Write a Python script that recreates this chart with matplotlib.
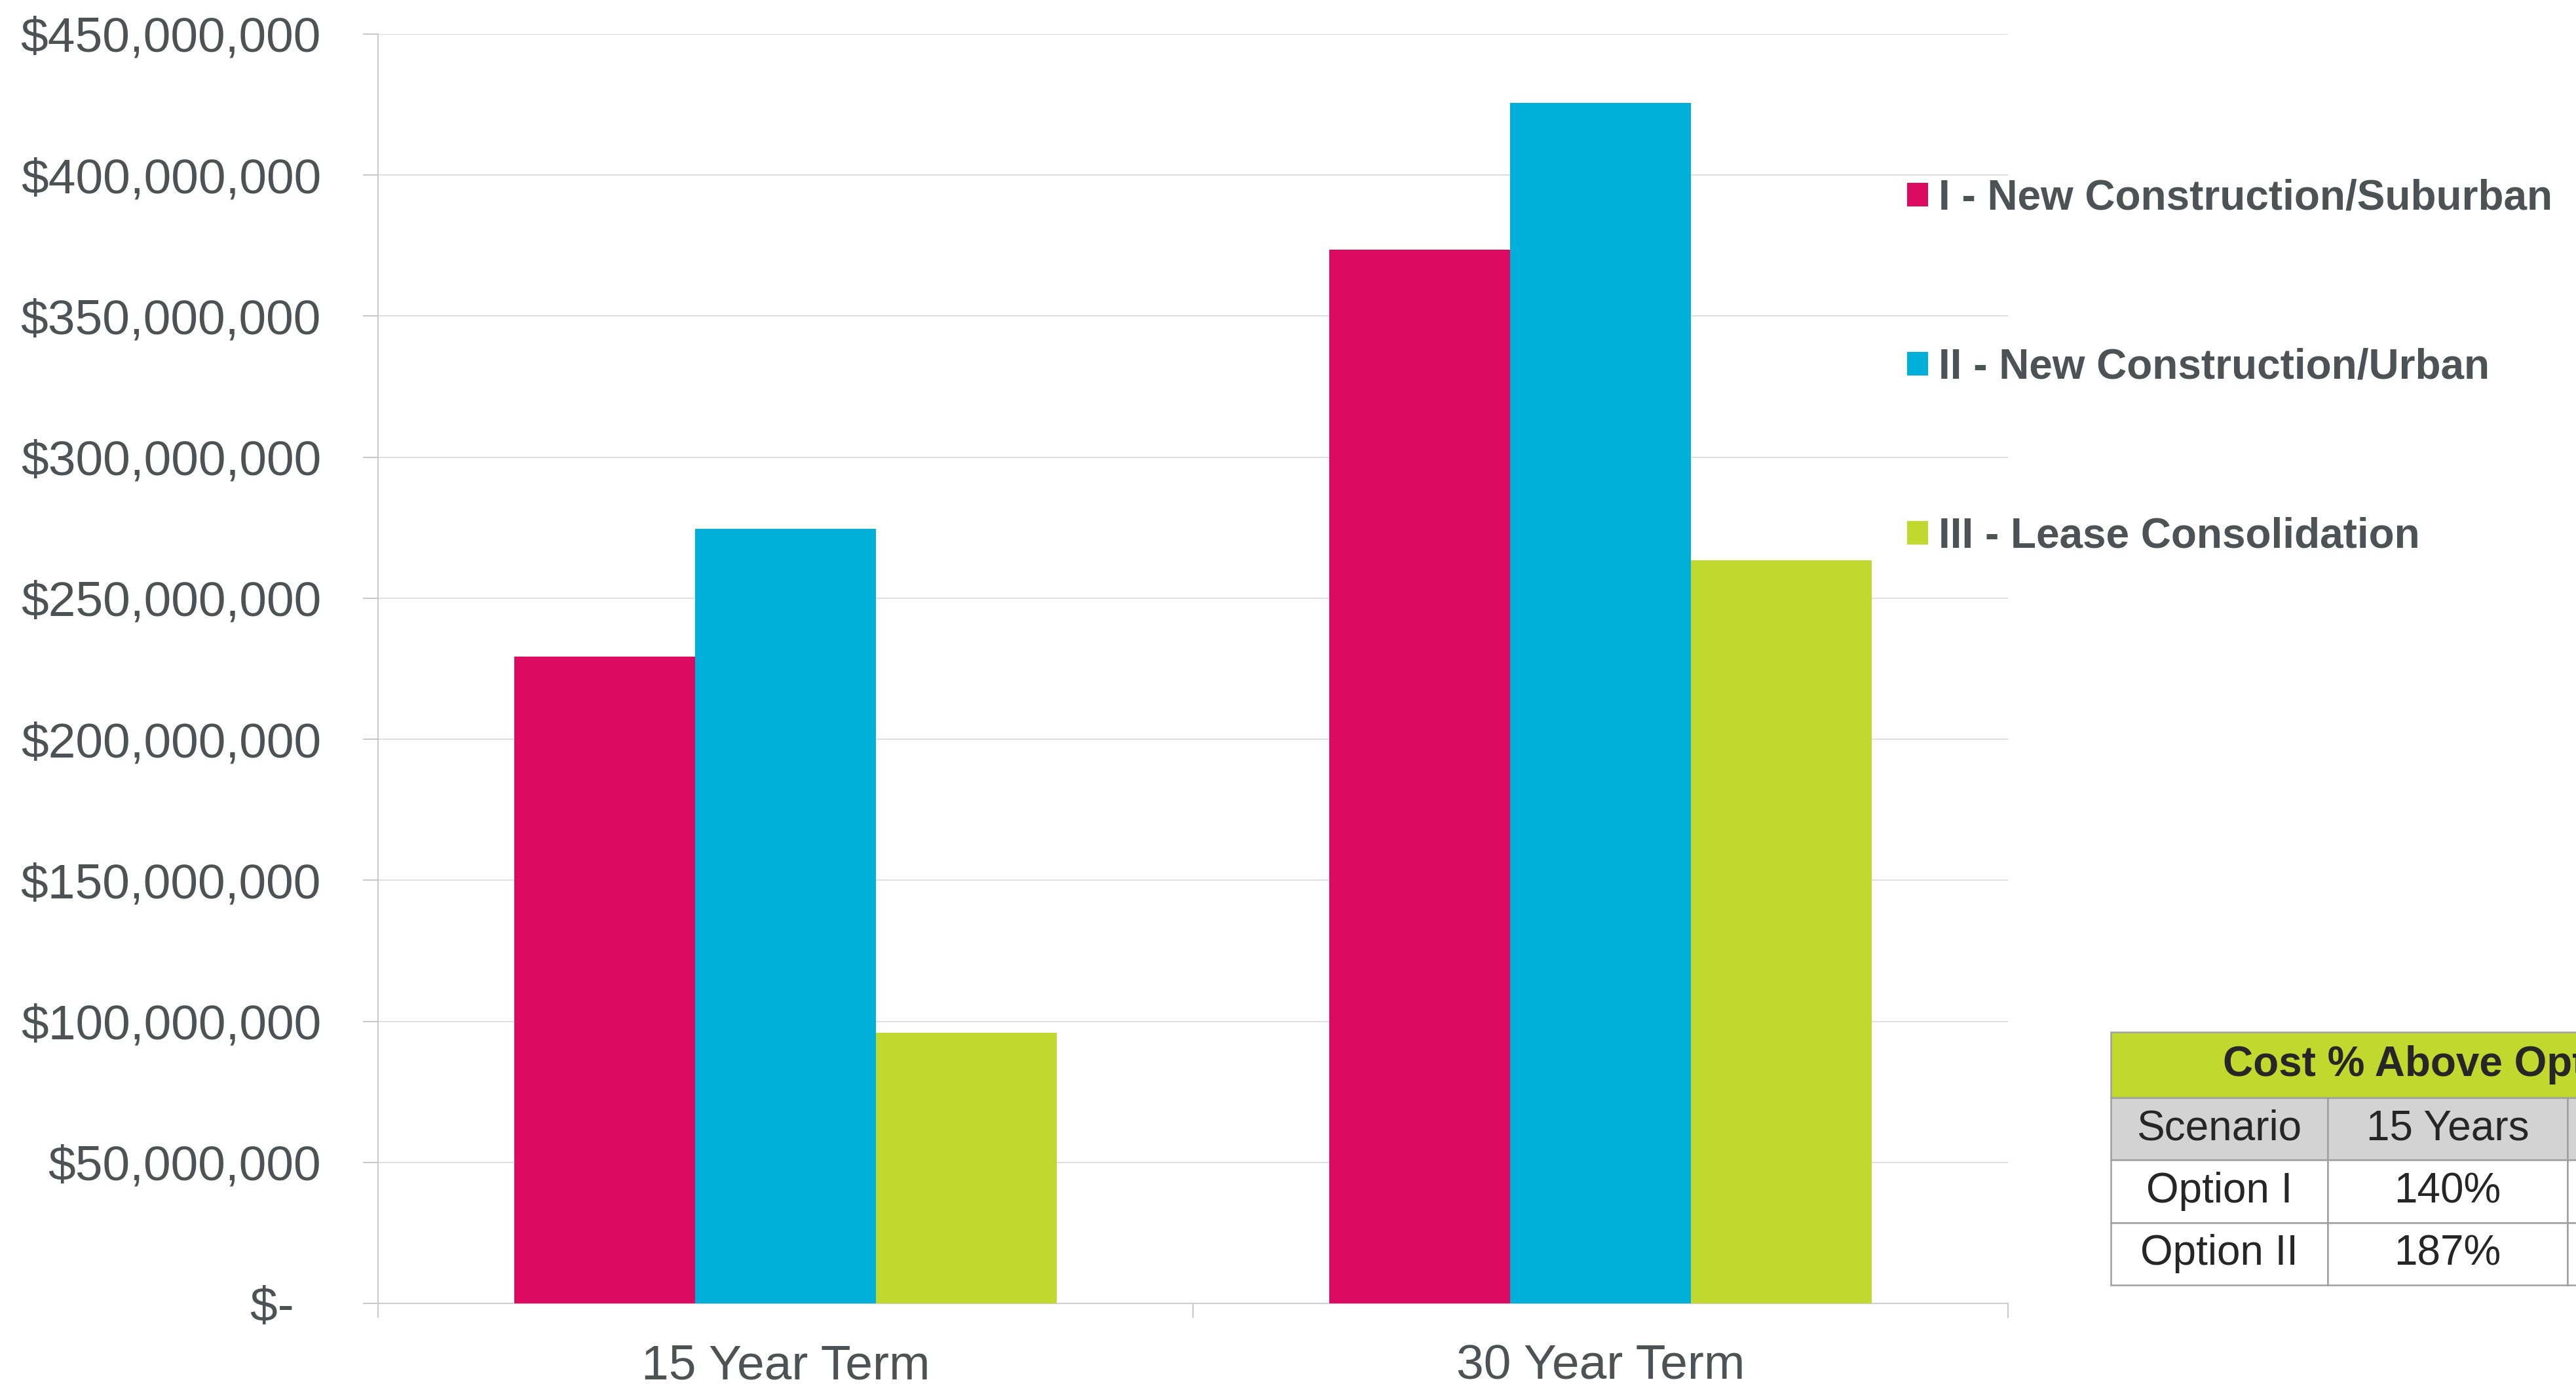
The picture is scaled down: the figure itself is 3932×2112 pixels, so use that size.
import numpy as np
import matplotlib.pyplot as plt
from matplotlib.ticker import FuncFormatter, FixedLocator
from matplotlib.patches import Rectangle

plt.rcParams['font.family'] = ['Liberation Sans', 'DejaVu Sans']

# chart data (dollars)
terms = ['15 Year Term', '30 Year Term']
series_names = ['I - New Construction/Suburban',
                'II - New Construction/Urban',
                'III - Lease Consolidation']
suburban = [229.3e6, 373.5e6]
urban = [274.7e6, 425.5e6]
lease = [96.0e6, 263.5e6]
colors = ['#DC0A60', '#00B0DB', '#C1D82F']

# side table
table_title = 'Cost % Above Option III'
table_header = ['Scenario', '15 Years', '30 Years']
table_rows = [['Option I', '140%', ''],
              ['Option II', '187%', '']]

text_col = '#4D5254'
grid_col = '#D9D9D9'
axis_col = '#BFBFBF'

fig = plt.figure(figsize=(39.32, 21.12), dpi=100)
ax = fig.add_axes([0.1467, 0.0582, 0.6328, 0.9172])

x = np.arange(len(terms))
w = 0.2218
series = [suburban, urban, lease]
bars = []
for i, vals in enumerate(series):
    b = ax.bar(x + (i - 1) * w, vals, width=w, color=colors[i], label=series_names[i], zorder=3)
    bars.append(b)

ax.set_xlim(-0.5, 1.5)
ax.set_ylim(0, 450e6)
ax.set_yticks(np.arange(0, 450e6 + 1, 50e6))


def money(v, pos):
    if v == 0:
        return '$-  '
    return '${:,.0f}'.format(v)


ax.yaxis.set_major_formatter(FuncFormatter(money))
ax.yaxis.grid(True, color=grid_col, lw=1.2, zorder=0)
ax.set_axisbelow(True)

for s in ['top', 'right']:
    ax.spines[s].set_visible(False)
ax.spines['left'].set_color(axis_col)
ax.spines['left'].set_linewidth(1.2)
ax.spines['bottom'].set_color('#D0D0D0')
ax.spines['bottom'].set_linewidth(1.5)

ax.tick_params(axis='y', length=16.5, width=1.2, color=axis_col, pad=46,
               labelsize=54, labelcolor=text_col)
ax.set_xticks(x)
ax.set_xticklabels(terms)
ax.xaxis.set_minor_locator(FixedLocator([-0.5, 0.5, 1.5]))
ax.tick_params(axis='x', which='major', length=0, pad=44, labelsize=54, labelcolor=text_col)
ax.tick_params(axis='x', which='minor', length=16, width=1.2, color=axis_col)

ax.legend(handles=bars, labels=series_names, loc='upper left',
          bbox_to_anchor=(0.7403, 0.871), bbox_transform=fig.transFigure,
          frameon=False, prop={'weight': 'bold', 'size': 46},
          labelspacing=3.1, handlelength=0.5, handleheight=0.5,
          handletextpad=0.25, borderaxespad=0, borderpad=0,
          labelcolor=text_col)

# table at the bottom right (runs off the edge like the original)
tax = fig.add_axes([0.8194, 0.0715, 0.2704, 0.1828])
tax.axis('off')
body_h = 114 / 154
widths = np.array([132, 146, 146]) / 424
tab = tax.table(cellText=table_rows, colLabels=table_header, colWidths=list(widths),
                bbox=[0, 0, 1, body_h], cellLoc='center')
tab.auto_set_font_size(False)
tab.set_fontsize(46)
for (r, c), cell in tab.get_celld().items():
    cell.set_edgecolor('#A0A0A0')
    cell.set_linewidth(1.8)
    cell.get_text().set_color('#262626')
    if r == 0:
        cell.set_facecolor('#D3D3D3')
    else:
        cell.set_facecolor('white')

tax.add_patch(Rectangle((0, body_h), 1, 1 - body_h, facecolor='#C1D82F',
                        edgecolor='#A0A0A0', lw=1.8, transform=tax.transAxes, clip_on=False))
tax.text(0.5, body_h + (1 - body_h) / 2, table_title, ha='center', va='center',
         fontsize=46, weight='bold', color='#262626', transform=tax.transAxes)

fig.savefig('out.png', dpi=100)
